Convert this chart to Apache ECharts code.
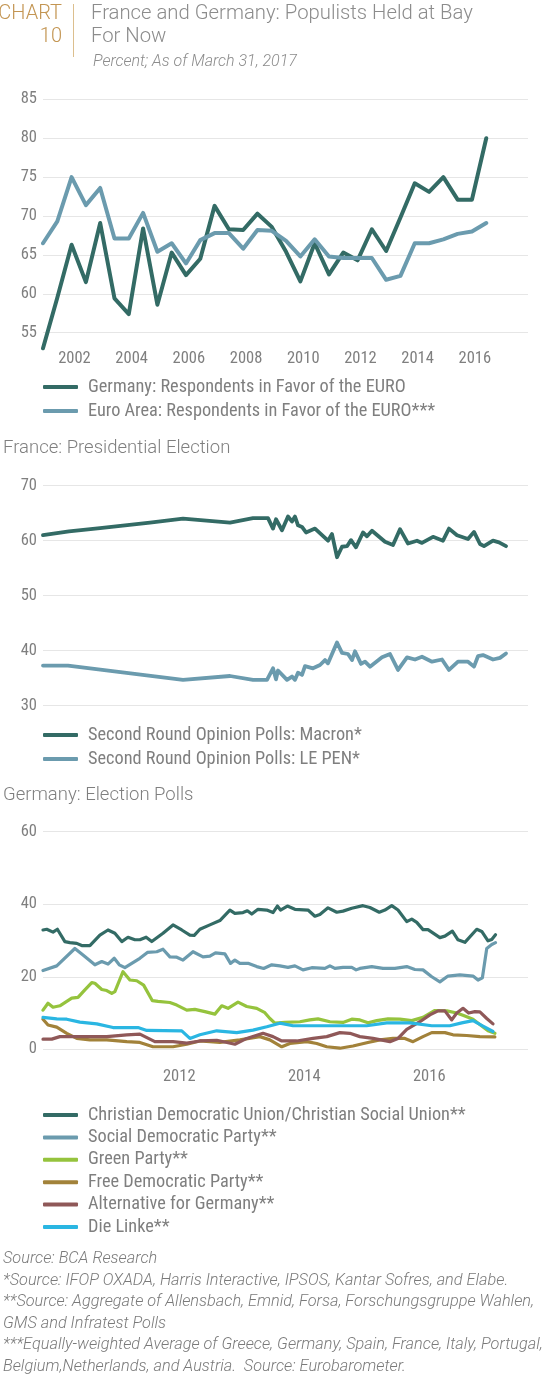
<!DOCTYPE html>
<html><head><meta charset="utf-8">
<script src="https://cdn.jsdelivr.net/npm/echarts@6/dist/echarts.min.js"></script>
<style>html,body{margin:0;padding:0;background:#fff}#c{width:554px;height:1392px}</style>
</head><body><div id="c"></div>
<script>
// ---------- Panel 1: Eurobarometer (semi-annual) ----------
const euroYears = [2000.9,2001.4,2001.9,2002.4,2002.9,2003.4,2003.9,2004.4,2004.9,2005.4,2005.9,2006.4,2006.9,2007.4,2007.9,2008.4,2008.9,2009.4,2009.9,2010.4,2010.9,2011.4,2011.9,2012.4,2012.9,2013.4,2013.9,2014.4,2014.9,2015.4,2015.9,2016.4];
const germanyEuro = [53.0,59.5,66.3,61.5,69.1,59.4,57.4,68.4,58.6,65.3,62.4,64.5,71.3,68.3,68.2,70.3,68.6,65.4,61.6,66.5,62.5,65.3,64.3,68.3,65.5,69.8,74.2,73.1,75.0,72.1,72.1,80.0];
const euroAreaEuro = [66.5,69.3,75.0,71.4,73.6,67.1,67.1,70.4,65.4,66.5,63.9,66.9,67.8,67.8,65.8,68.2,68.1,66.8,64.8,67.0,64.8,64.6,64.6,64.6,61.8,62.3,66.5,66.5,67.0,67.7,68.0,69.1];
const euroYearTicks = [2002,2004,2006,2008,2010,2012,2014,2016];

// ---------- Panel 2: France second round polls (days since first poll) ----------
const macronDays = [0,26,57,107,140,187,210,225,230,233,239,245,249,252,255,259,263,272,285,289,294,299,304,308,313,320,324,329,342,350,357,365,374,379,390,400,406,414,425,431,437,441,450,456,463];
const macronVals = [61.0,61.7,62.3,63.3,64.0,63.3,64.1,64.1,62.2,63.9,61.9,64.4,63.5,64.4,62.8,62.5,61.5,62.2,60.0,61.2,57.0,58.9,59.0,60.1,58.8,61.5,60.8,61.8,59.8,59.2,62.1,59.5,60.0,59.6,60.7,60.0,62.2,61.0,60.3,61.6,59.4,59.0,60.0,59.7,59.0];
const lePenDays = [0,25,140,187,210,224,230,233,235,244,249,252,255,259,262,270,277,282,285,294,299,305,309,312,318,322,327,339,347,355,364,372,379,389,399,406,415,425,431,435,440,450,457,463];
const lePenVals = [37.3,37.3,34.7,35.4,34.7,34.7,36.8,34.8,36.4,34.7,35.3,34.7,36.0,35.6,37.2,36.8,37.4,38.3,37.7,41.5,39.6,39.4,38.3,39.9,37.6,38.0,37.1,38.8,39.4,36.5,38.8,38.4,38.9,38.0,38.4,36.5,38.0,38.0,37.1,39.0,39.2,38.4,38.7,39.5];

// ---------- Panel 3: Germany election polls [year, %] ----------
const cdu = [[2009.82,32.9],[2009.88,33.1],[2009.98,32.3],[2010.05,33.1],[2010.17,29.7],[2010.25,29.4],[2010.36,29.2],[2010.44,28.6],[2010.57,28.6],[2010.73,31.5],[2010.86,32.9],[2010.97,32.0],[2011.08,29.7],[2011.18,30.9],[2011.29,30.2],[2011.37,30.2],[2011.47,30.9],[2011.56,29.7],[2011.74,32.0],[2011.90,34.3],[2012.04,32.9],[2012.17,31.5],[2012.24,31.4],[2012.33,33.1],[2012.49,34.3],[2012.65,35.5],[2012.81,38.4],[2012.89,37.5],[2013.02,37.7],[2013.09,38.2],[2013.16,37.3],[2013.26,38.6],[2013.40,38.4],[2013.50,37.7],[2013.57,39.5],[2013.62,38.4],[2013.73,39.5],[2013.85,38.6],[2014.06,38.4],[2014.17,36.7],[2014.25,37.2],[2014.38,39.0],[2014.52,37.8],[2014.62,38.1],[2014.76,38.9],[2014.94,39.6],[2015.05,39.1],[2015.20,37.8],[2015.29,38.4],[2015.40,39.6],[2015.50,38.4],[2015.64,35.2],[2015.72,35.9],[2015.80,35.0],[2015.90,33.0],[2015.98,33.0],[2016.17,30.8],[2016.25,31.2],[2016.37,32.6],[2016.46,30.2],[2016.57,29.5],[2016.76,33.1],[2016.84,32.5],[2016.94,29.9],[2017.00,30.3],[2017.06,31.6]];
const spd = [[2009.82,21.7],[2010.04,23.0],[2010.33,27.8],[2010.46,26.0],[2010.65,23.3],[2010.76,24.2],[2010.86,23.5],[2010.96,25.1],[2011.04,23.3],[2011.13,22.5],[2011.24,23.7],[2011.37,25.1],[2011.49,26.7],[2011.64,26.9],[2011.74,27.6],[2011.85,25.5],[2011.96,25.4],[2012.06,24.6],[2012.22,26.9],[2012.38,25.5],[2012.49,25.7],[2012.58,26.6],[2012.73,26.3],[2012.82,23.7],[2012.89,24.6],[2012.97,23.7],[2013.10,23.7],[2013.24,22.8],[2013.35,22.3],[2013.48,23.3],[2013.61,23.0],[2013.74,22.6],[2013.85,23.0],[2013.98,21.9],[2014.12,22.5],[2014.33,22.3],[2014.41,23.0],[2014.49,22.3],[2014.62,22.6],[2014.76,22.6],[2014.83,21.9],[2014.89,22.3],[2015.08,22.8],[2015.26,22.3],[2015.45,22.3],[2015.64,22.8],[2015.77,22.0],[2015.90,21.9],[2016.04,20.0],[2016.17,18.6],[2016.30,20.2],[2016.49,20.5],[2016.70,20.2],[2016.78,19.1],[2016.85,19.7],[2016.92,27.8],[2017.00,28.9],[2017.06,29.4]];
const green = [[2009.82,10.8],[2009.90,12.7],[2009.98,11.6],[2010.09,12.0],[2010.20,13.2],[2010.28,14.1],[2010.38,14.3],[2010.49,16.4],[2010.60,18.4],[2010.65,18.2],[2010.76,16.5],[2010.84,16.2],[2010.92,15.4],[2010.97,15.9],[2011.10,21.4],[2011.21,19.1],[2011.32,18.9],[2011.43,17.7],[2011.57,13.4],[2011.66,13.2],[2011.85,12.9],[2011.96,12.2],[2012.12,10.8],[2012.25,11.0],[2012.41,10.4],[2012.57,9.7],[2012.68,12.0],[2012.78,11.3],[2012.94,13.0],[2013.08,11.8],[2013.24,11.3],[2013.37,10.1],[2013.45,8.5],[2013.53,7.2],[2013.69,7.4],[2013.93,7.6],[2014.09,8.1],[2014.22,8.4],[2014.41,7.6],[2014.62,7.4],[2014.76,8.3],[2014.89,8.1],[2015.02,7.3],[2015.16,7.9],[2015.34,8.4],[2015.53,8.3],[2015.72,7.9],[2015.90,8.8],[2016.09,10.7],[2016.28,10.6],[2016.44,10.0],[2016.57,9.2],[2016.70,8.3],[2016.84,6.4],[2016.94,5.1],[2017.05,4.4]];
const fdp = [[2009.82,8.3],[2009.90,6.7],[2010.04,6.1],[2010.20,4.4],[2010.36,3.0],[2010.57,2.6],[2010.84,2.6],[2011.16,2.1],[2011.37,1.9],[2011.58,0.7],[2011.90,0.7],[2012.12,1.4],[2012.33,2.3],[2012.65,1.9],[2012.97,2.6],[2013.29,3.5],[2013.45,2.6],[2013.64,0.7],[2013.77,1.6],[2014.04,2.1],[2014.20,1.6],[2014.36,0.7],[2014.57,0.3],[2014.78,0.9],[2015.00,1.8],[2015.21,2.6],[2015.42,3.0],[2015.61,3.0],[2015.74,2.1],[2015.90,3.5],[2016.04,4.6],[2016.25,4.6],[2016.38,4.0],[2016.60,3.8],[2016.81,3.5],[2017.05,3.4]];
const afd = [[2009.82,2.8],[2009.96,2.8],[2010.09,3.5],[2010.36,3.5],[2010.84,3.5],[2011.16,4.0],[2011.37,4.2],[2011.61,2.1],[2011.90,2.1],[2012.12,1.7],[2012.33,2.3],[2012.60,2.5],[2012.89,1.4],[2013.08,3.0],[2013.34,4.4],[2013.50,3.5],[2013.64,2.3],[2013.88,2.3],[2014.14,3.0],[2014.36,3.5],[2014.57,4.6],[2014.73,4.4],[2014.89,3.5],[2015.10,3.0],[2015.37,2.1],[2015.50,3.0],[2015.64,5.5],[2015.85,7.6],[2016.01,9.5],[2016.14,10.6],[2016.25,10.6],[2016.36,8.1],[2016.44,10.0],[2016.54,11.3],[2016.63,10.0],[2016.73,10.4],[2016.81,10.3],[2016.92,8.5],[2017.02,7.0]];
const linke = [[2009.82,8.8],[2010.04,8.4],[2010.20,8.3],[2010.41,7.5],[2010.68,7.0],[2010.94,6.0],[2011.34,6.0],[2011.48,5.2],[2012.04,5.1],[2012.17,3.0],[2012.33,4.0],[2012.60,5.1],[2012.92,4.6],[2013.18,5.3],[2013.40,6.2],[2013.61,7.2],[2013.82,6.5],[2015.00,6.5],[2015.32,7.3],[2015.69,7.3],[2016.04,6.5],[2016.33,6.5],[2016.52,7.3],[2016.70,7.9],[2016.86,6.4],[2017.02,4.9]];
const pollYearTicks = [2012,2014,2016];

const C_DARK = '#336b65', C_LIGHT = '#6b9bae', C_GREEN = '#95c33d', C_OLIVE = '#a2823a', C_BROWN = '#8f5858', C_CYAN = '#2ab6e2';
const GRAY = '#7f7f7f';
const NARROW = '"Liberation Sans Narrow", "Roboto Condensed", Roboto, sans-serif';
const zip = (xs, ys) => xs.map((x, i) => [x, ys[i]]);

const gridLine = {show: true, lineStyle: {color: '#e6e6e6', width: 1}};
function yAx(gi, min, max, interval) {
  return {type: 'value', gridIndex: gi, min, max, interval,
    axisLine: {show: false}, axisTick: {show: false}, splitLine: gridLine,
    axisLabel: {color: GRAY, fontSize: 16.5, fontFamily: NARROW, margin: 6}};
}
function line(name, data, color, xi, w) {
  return {type: 'line', name, data, xAxisIndex: xi, yAxisIndex: xi, showSymbol: false, symbol: 'none',
    clip: false, lineStyle: {color, width: w, join: 'round', cap: 'round'}, itemStyle: {color}, animation: false};
}
function legend(names, top, gap) {
  return {data: names, left: 43, top, padding: 0, orient: 'vertical', itemWidth: 35, itemHeight: 4, itemGap: gap,
    icon: 'roundRect', selectedMode: false,
    textStyle: {color: GRAY, fontSize: 18.3, fontFamily: NARROW, lineHeight: 18, padding: [0,0,0,5]}};
}
const txt = (text, x, y, o) => ({type: 'text', x, y, style: Object.assign({text, fill: GRAY, fontSize: 16, fontFamily: 'Roboto, sans-serif', verticalAlign: 'middle'}, o || {})});
const foot = (text, y) => txt(text, 3, y, {fontSize: 16.3, fontStyle: 'italic', fontWeight: 300, fill: '#7a7a7a'});

const n1 = ['Germany: Respondents in Favor of the EURO', 'Euro Area: Respondents in Favor of the EURO***'];
const n2 = ['Second Round Opinion Polls: Macron*', 'Second Round Opinion Polls: LE PEN*'];
const n3 = ['Christian Democratic Union/Christian Social Union**', 'Social Democratic Party**', 'Green Party**', 'Free Democratic Party**', 'Alternative for Germany**', 'Die Linke**'];

const option = {
  animation: false,
  grid: [
    {left: 43, right: 26, top: 99.3, height: 233.4},
    {left: 43, right: 26, top: 485.7, height: 220},
    {left: 43, right: 26, top: 831.7, height: 217.6}
  ],
  xAxis: [
    {type: 'value', gridIndex: 0, min: 2000.9, max: 2017.86, axisLine: {show: false}, axisTick: {show: false}, splitLine: {show: false},
      axisLabel: {customValues: euroYearTicks, color: GRAY, fontSize: 16.5, fontFamily: NARROW, margin: 18, formatter: v => String(Math.round(v))}},
    {type: 'value', gridIndex: 1, min: 0, max: 485, show: false},
    {type: 'value', gridIndex: 2, min: 2009.82, max: 2017.58, axisLine: {show: false}, axisTick: {show: false}, splitLine: {show: false},
      axisLabel: {customValues: pollYearTicks, color: GRAY, fontSize: 16.5, fontFamily: NARROW, margin: 19, formatter: v => String(Math.round(v))}}
  ],
  yAxis: [yAx(0, 55, 85, 5), yAx(1, 30, 70, 10), yAx(2, 0, 60, 20)],
  legend: [legend(n1, 378, 6), legend(n2, 726, 6), legend(n3, 1106, 4.4)],
  series: [
    line(n1[0], zip(euroYears, germanyEuro), C_DARK, 0, 4),
    line(n1[1], zip(euroYears, euroAreaEuro), C_LIGHT, 0, 4),
    line(n2[0], zip(macronDays, macronVals), C_DARK, 1, 3.8),
    line(n2[1], zip(lePenDays, lePenVals), C_LIGHT, 1, 3.8),
    line(n3[0], cdu, C_DARK, 2, 3.2),
    line(n3[1], spd, C_LIGHT, 2, 3.2),
    line(n3[2], green, C_GREEN, 2, 3.2),
    line(n3[3], fdp, C_OLIVE, 2, 3.2),
    line(n3[4], afd, C_BROWN, 2, 3.2),
    line(n3[5], linke, C_CYAN, 2, 3.2)
  ],
  graphic: [
    txt('CHART', 62, 14, {align: 'right', fill: '#c39552', fontSize: 20, fontWeight: 300}),
    txt('10', 62, 37, {align: 'right', fill: '#c39552', fontSize: 20, fontWeight: 300}),
    {type: 'line', shape: {x1: 73.5, y1: 4, x2: 73.5, y2: 57}, style: {stroke: '#dcbf8e', lineWidth: 1}},
    txt('France and Germany: Populists Held at Bay', 91, 14, {fill: '#8c8c8c', fontSize: 20.3, fontWeight: 300}),
    txt('For Now', 91, 37, {fill: '#8c8c8c', fontSize: 20.3, fontWeight: 300}),
    txt('Percent; As of March 31, 2017', 93, 62, {fill: '#8c8c8c', fontSize: 16, fontStyle: 'italic', fontWeight: 300}),
    txt('France: Presidential Election', 3, 448, {fontSize: 18.5, fontWeight: 300}),
    txt('Germany: Election Polls', 3, 795, {fontSize: 18.5, fontWeight: 300}),
    foot('Source: BCA Research', 1259),
    foot('*Source: IFOP OXADA, Harris Interactive, IPSOS, Kantar Sofres, and Elabe.', 1280.5),
    foot('**Source: Aggregate of Allensbach, Emnid, Forsa, Forschungsgruppe Wahlen,', 1302),
    foot('GMS and Infratest Polls', 1323.5),
    foot('***Equally-weighted Average of Greece, Germany, Spain, France, Italy, Portugal,', 1345),
    foot('Belgium,Netherlands, and Austria.  Source: Eurobarometer.', 1366.5)
  ]
};
echarts.init(document.getElementById('c'), null, {renderer: 'canvas'}).setOption(option);
</script></body></html>
